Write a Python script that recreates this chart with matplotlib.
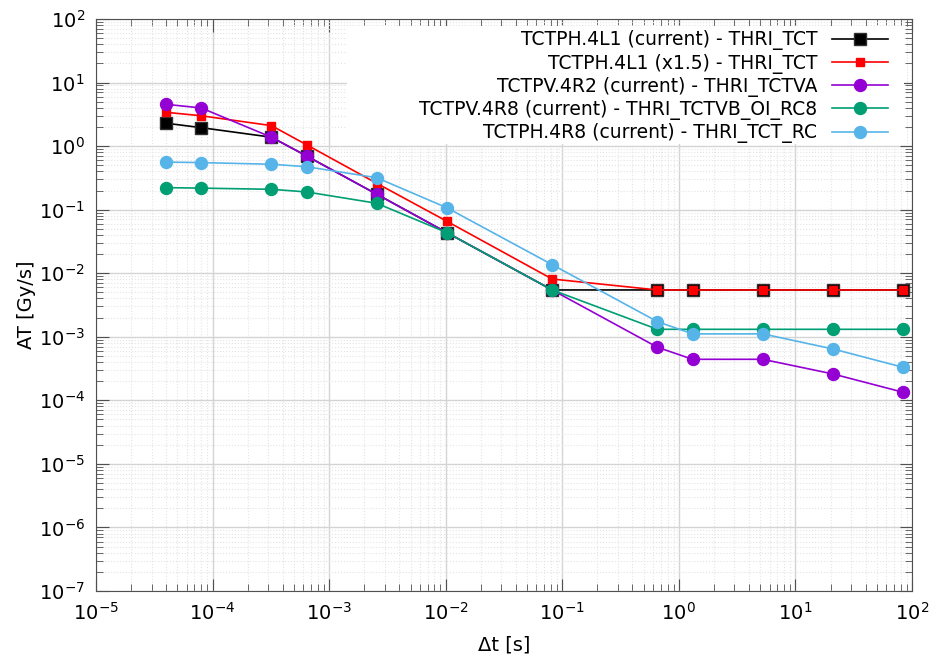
import numpy as np
import matplotlib.pyplot as plt
from matplotlib.patches import Rectangle
from matplotlib.ticker import LogLocator, NullFormatter

# BLM running sum integration times [s]
dt = [4e-5, 8e-5, 3.2e-4, 6.4e-4, 2.56e-3, 1.024e-2, 8.192e-2,
      0.655, 1.311, 5.243, 20.97, 83.89]

at_4l1 = [2.29, 1.95, 1.38, 0.70, 0.175, 0.0435, 0.00545,
          0.00545, 0.00545, 0.00545, 0.00545, 0.00545]
at_4l1_x15 = [3.40, 3.0, 2.10, 1.05, 0.26, 0.0656, 0.0081,
              0.00545, 0.00545, 0.00545, 0.00545, 0.00545]
at_4r2 = [4.54, 3.98, 1.38, 0.70, 0.175, 0.0435, 0.00545,
          6.84e-4, 4.42e-4, 4.42e-4, 2.60e-4, 1.34e-4]
at_4r8_v = [0.222, 0.218, 0.209, 0.19, 0.126, 0.0435, 0.00545,
            1.31e-3, 1.31e-3, 1.31e-3, 1.31e-3, 1.31e-3]
at_4r8_h = [0.56, 0.55, 0.518, 0.474, 0.318, 0.107, 0.01364,
            1.73e-3, 1.11e-3, 1.11e-3, 6.43e-4, 3.31e-4]

labels = ['TCTPH.4L1 (current) - THRI_TCT',
          'TCTPH.4L1 (x1.5) - THRI_TCT',
          'TCTPV.4R2 (current) - THRI_TCTVA',
          'TCTPV.4R8 (current) - THRI_TCTVB_OI_RC8',
          'TCTPH.4R8 (current) - THRI_TCT_RC']

x_exp = list(range(-5, 3))
y_exp = list(range(-7, 3))

fig = plt.figure(figsize=(9.4, 6.59), dpi=100)
ax = fig.add_axes([0.1021, 0.1032, 0.8681, 0.868])

ax.plot(dt, at_4l1, color='black', lw=1.2, marker='s', ms=8.6,
        mfc='black', mec='#303030', label=labels[0])
ax.plot(dt, at_4l1_x15, color='#ff0000', lw=1.2, marker='s', ms=5.8,
        mfc='#ff0000', mec='#ff0000', label=labels[1])
ax.plot(dt, at_4r2, color='#9400d3', lw=1.2, marker='o', ms=8.6,
        mfc='#9400d3', mec='#9400d3', label=labels[2])
ax.plot(dt, at_4r8_v, color='#009e73', lw=1.2, marker='o', ms=8.6,
        mfc='#009e73', mec='#009e73', label=labels[3])
ax.plot(dt, at_4r8_h, color='#56b4e9', lw=1.2, marker='o', ms=8.6,
        mfc='#56b4e9', mec='#56b4e9', label=labels[4])

ax.set_xscale('log')
ax.set_yscale('log')
ax.set_xlim(1e-5, 1e2)
ax.set_ylim(1e-7, 1e2)

ax.set_xticks([10.0 ** e for e in x_exp], [f'$10^{{{e}}}$' for e in x_exp])
ax.set_yticks([10.0 ** e for e in y_exp], [f'$10^{{{e}}}$' for e in y_exp])
ax.xaxis.set_minor_locator(LogLocator(base=10, subs=np.arange(2, 10), numticks=100))
ax.yaxis.set_minor_locator(LogLocator(base=10, subs=np.arange(2, 10), numticks=100))
ax.xaxis.set_minor_formatter(NullFormatter())
ax.yaxis.set_minor_formatter(NullFormatter())
ax.set_xlim(1e-5, 1e2)
ax.set_ylim(1e-7, 1e2)

ax.grid(True, which='major', color='#d4d4d4', lw=1.0, ls='-')
ax.grid(True, which='minor', color='#e4e4e4', lw=0.8, ls=':')
ax.set_axisbelow(True)

ax.tick_params(which='both', direction='in', top=True, right=True,
               color='#505050', labelsize=14, pad=8)
ax.tick_params(which='major', length=9)
ax.tick_params(which='minor', length=5)
for s in ax.spines.values():
    s.set_color('#505050')

ax.set_xlabel('Δt [s]', fontsize=14, labelpad=8)
ax.set_ylabel('AT [Gy/s]', fontsize=14, labelpad=2)

# white key background, wider than the text like the original
ax.add_patch(Rectangle((0.3076, 0.781), 0.683, 0.207, transform=ax.transAxes,
                       facecolor='white', edgecolor='none', zorder=1.5))

leg = ax.legend(loc='upper right', bbox_to_anchor=(0.978, 0.99),
                markerfirst=False, fontsize=13.5, frameon=False,
                handlelength=3.0, labelspacing=0.17,
                borderpad=0.3, borderaxespad=0)

plt.savefig('out.png', dpi=100)
